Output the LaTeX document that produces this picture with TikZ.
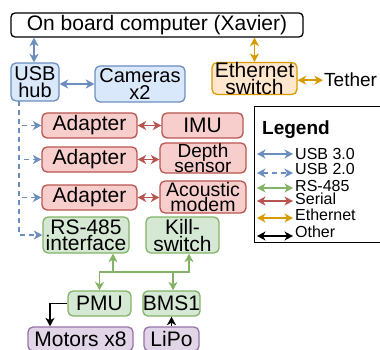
\documentclass[tikz,border=0pt]{standalone}
\usepackage{fontspec}
\setmainfont{Liberation Sans}
\usetikzlibrary{arrows.meta}

\definecolor{usbdraw}{HTML}{6C8EBF}
\definecolor{usbfill}{HTML}{DAE8FC}
\definecolor{ethdraw}{HTML}{D79B00}
\definecolor{ethfill}{HTML}{FFE6CC}
\definecolor{serialdraw}{HTML}{B85450}
\definecolor{serialfill}{HTML}{F8CECC}
\definecolor{rsdraw}{HTML}{82B366}
\definecolor{rsfill}{HTML}{D5E8D4}
\definecolor{otherdraw}{HTML}{9673A6}
\definecolor{otherfill}{HTML}{E1D5E7}

\begin{document}
\begin{tikzpicture}[x=1pt, y=-1pt, >={Stealth[length=8.5pt,width=9pt,inset=2.5pt]}]
	\tikzstyle{box}=[draw, rounded corners=5pt, line width=1.3pt, inner sep=0pt, align=center, font=\fontsize{21}{16}\selectfont]
	\tikzstyle{usbbox}=[box, draw=usbdraw, fill=usbfill]
	\tikzstyle{ethbox}=[box, draw=ethdraw, fill=ethfill]
	\tikzstyle{serialbox}=[box, draw=serialdraw, fill=serialfill]
	\tikzstyle{rsbox}=[box, draw=rsdraw, fill=rsfill]
	\tikzstyle{otherbox}=[box, draw=otherdraw, fill=otherfill]
	\tikzstyle{usbline}=[usbdraw, line width=1.8pt]
	\tikzstyle{usbtwo}=[usbline, dash pattern=on 5pt off 4pt]
	\tikzstyle{ethline}=[ethdraw, line width=1.8pt]
	\tikzstyle{serialline}=[serialdraw, line width=1.8pt]
	\tikzstyle{rsline}=[rsdraw, line width=1.8pt]
	\tikzstyle{otherline}=[black, line width=1.5pt]
	\tikzstyle{keytext}=[anchor=base west, inner sep=0pt, font=\fontsize{16}{16}\selectfont]
	\clip (0,0) rectangle (380,350);
	% Computer, USB hub, cameras, ethernet
	\node at (157,25) [box, draw=black, fill=white, rounded corners=4pt, minimum width=292pt, minimum height=24pt] (xavier) {On board computer (Xavier)};
	\node at (35,82) [usbbox, minimum width=48pt, minimum height=38pt, font=\fontsize{20}{16.5}\selectfont] (hub) {USB\\hub};
	\node at (140,84) [usbbox, minimum width=90pt, minimum height=36pt, font=\fontsize{20}{16.5}\selectfont] (cameras) {Cameras\\x2};
	\node at (254.5,78.5) [ethbox, minimum width=85pt, minimum height=31pt, font=\fontsize{21}{15}\selectfont] (switch) {Ethernet\\switch};
	\node at (323,87) [anchor=base west, inner sep=1pt, font=\fontsize{19}{19}\selectfont] (tether) {Tether};
	% Adapters and sensors
	\foreach \n/\y in {1/125.5,2/159.5,3/197.5}
		\node at (89.5,\y) [serialbox, minimum width=95pt, minimum height=25pt] (adapter_\n) {Adapter};
	\node at (202.5,125.5) [serialbox, minimum width=81pt, minimum height=25pt] (sensor_1) {IMU};
	\node at (203,158) [serialbox, minimum width=86pt, minimum height=30pt, font=\fontsize{19}{14}\selectfont] (sensor_2) {Depth\\sensor};
	\node at (203,197) [serialbox, minimum width=86pt, minimum height=32pt, font=\fontsize{19.5}{15}\selectfont] (sensor_3) {Acoustic\\modem};
	% RS-485 bus
	\node at (86,235) [rsbox, minimum width=86pt, minimum height=36pt, font=\fontsize{21}{15}\selectfont] (rs485) {RS-485\\interface};
	\node at (182.5,235) [rsbox, minimum width=73pt, minimum height=36pt, font=\fontsize{21}{17}\selectfont] (killswitch) {Kill-\\switch};
	\node at (99.5,303.5) [rsbox, minimum width=63pt, minimum height=25pt] (pmu) {PMU};
	\node at (171.5,303.5) [rsbox, minimum width=55pt, minimum height=25pt] (bms) {BMS1};
	% Power
	\node at (80.5,339) [otherbox, minimum width=105pt, minimum height=24pt] (motors) {Motors x8};
	\node at (171.5,339) [otherbox, minimum width=55pt, minimum height=24pt] (lipo) {LiPo};
	% Legend
	\node at (254,106) [anchor=north west, draw, line width=1.3pt, minimum width=150pt, minimum height=136pt] (legend) {};
	\node at (262,135) [anchor=base west, inner sep=0pt, font=\bfseries\fontsize{19}{19}\selectfont] (legend_title) {Legend};
	%---------------------%
	% USB 3.0 and ethernet
	\draw[usbline,<->] (hub.north -| 34,0) -- (xavier.south -| 34,0);
	\draw[usbline,<->] (hub.east |- cameras.west) -- (cameras.west);
	\draw[ethline,<->] (switch.north) -- (switch.north |- xavier.south);
	\draw[ethline,<->] (switch.east |- tether.west) -- (tether.west);
	% USB 2.0
	\coordinate (hub_out) at (19,101);
	\foreach \t in {adapter_1,adapter_2,adapter_3,rs485}
		\draw[usbtwo,->] (hub_out) |- (\t.west);
	% Serial
	\foreach \i in {1,2,3}
		\draw[serialline,<->] (adapter_\i.east) -- (adapter_\i.east -| sensor_\i.west);
	% RS-485
	\coordinate (bus_west) at (99.5,272);
	\coordinate (bus_east) at (189,272);
	\coordinate (tap_rs) at (113,272);
	\coordinate (tap_bms) at (173,272);
	\draw[rsline,<->] (pmu.north) -- (bus_west) -- (bus_east) -- (bus_east |- killswitch.south);
	\draw[rsline,->] (tap_rs) -- (tap_rs |- rs485.south);
	\draw[rsline,->] (tap_bms) -- (tap_bms |- bms.north);
	% Other
	\draw[otherline,->] (pmu.west) -| ([xshift=-30.5pt]motors.north);
	\draw[otherline,->] (lipo.north) -- (bms.south);
	% Legend entries
	\foreach \n/\s/\y/\b/\t in {1/usbline/154/159/USB 3.0, 2/usbtwo/173/174/USB 2.0, 3/rsline/188/191/RS-485, 4/serialline/201/204/Serial, 5/ethline/218/220/Ethernet, 6/otherline/236/237/Other} {
		\node at (295,\b) [keytext] (key_\n) {\t};
		\coordinate (tip_\n) at (293,\y);
		\draw[\s,<->] (tip_\n) ++(-36,0) -- (tip_\n);
	}
	%---------------------%
\end{tikzpicture}
\end{document}
